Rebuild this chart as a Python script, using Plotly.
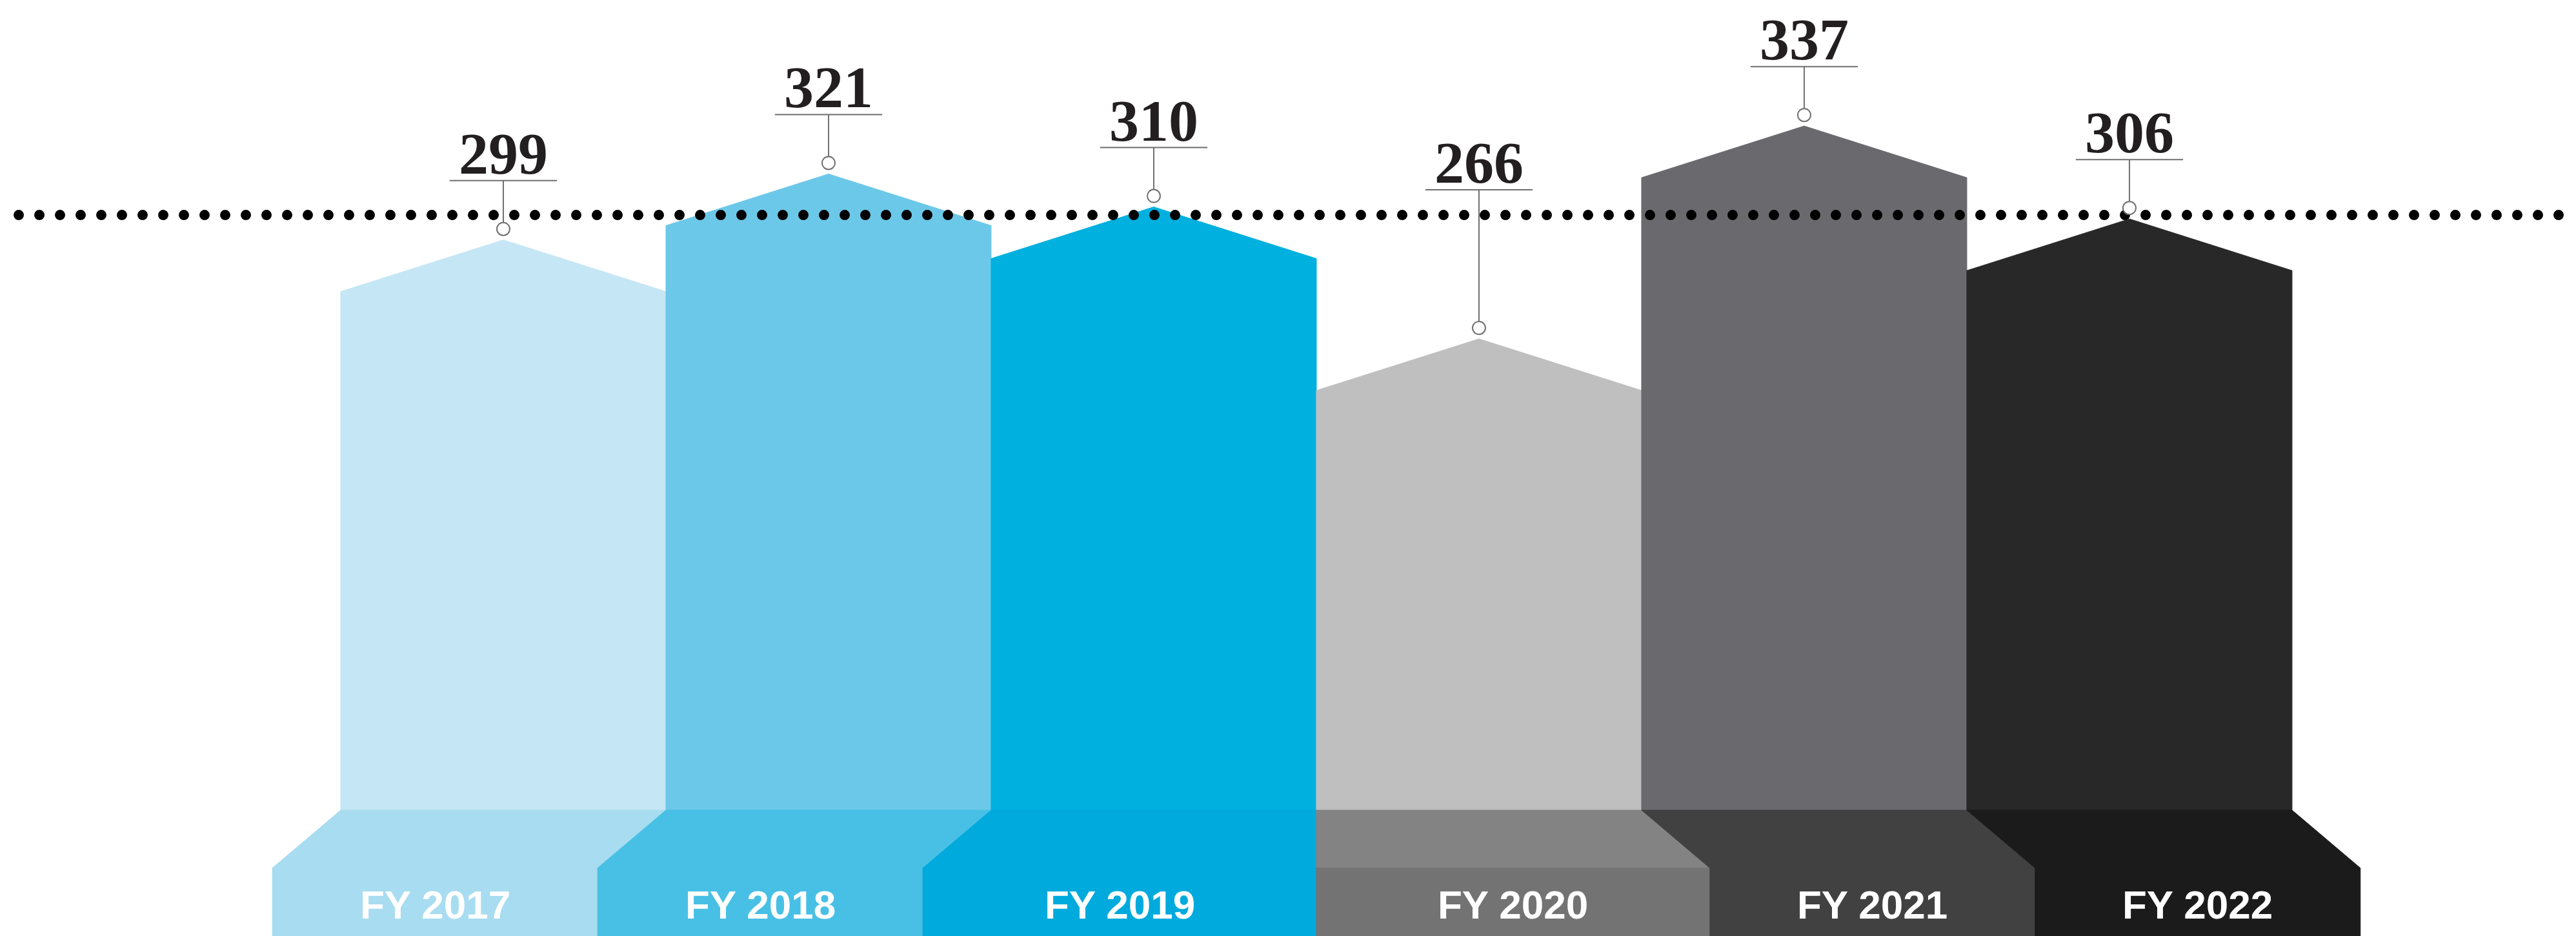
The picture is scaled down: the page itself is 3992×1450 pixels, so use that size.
import numpy as np
import plotly.graph_objects as go

# ---------------- data ----------------
categories = ["FY 2017", "FY 2018", "FY 2019", "FY 2020", "FY 2021", "FY 2022"]
values = [299, 321, 310, 266, 337, 306]
value_labels = ["299", "321", "310", "266", "337", "306"]
reference_value = 307.3  # dotted reference line

# ---------------- styles ----------------
house_colors = ["#C5E6F5", "#6CC8E8", "#00B0DF", "#BFBFBF", "#6A696E", "#282828"]
base_upper_colors = ["#A8DCF0", "#48C0E5", "#00AADD", "#838383", "#414141", "#1B1B1B"]
base_lower_colors = ["#A8DCF0", "#48C0E5", "#00AADD", "#737373", "#414141", "#1B1B1B"]
slant_dirs = [-1, -1, -1, 1, 1, 1]

W, H = 3992, 1450
Y_MIN, Y_MAX = 65.1, 377.3
X_MIN, X_MAX = -1.5317, 6.389
PX_PER_Y = H / (Y_MAX - Y_MIN)
ROOF = 80 / PX_PER_Y
BASE_TOP = 108.8
BASE_MID = 89.5
SLANT = 0.21
HALF = 0.5
CIRCLE_OFF = 17 / PX_PER_Y
STEM_OFF = 92 / PX_PER_Y
LABEL_MIN_ABOVE_REF = 39 / PX_PER_Y
LABEL_HALF_W = 0.165
GREY = "#6F6F6F"

fig = go.Figure()
n = len(values)

# houses
for i, v in enumerate(values):
    xs = [i - HALF, i - HALF, i, i + HALF, i + HALF, i - HALF]
    ys = [BASE_TOP, v - ROOF, v, v - ROOF, BASE_TOP, BASE_TOP]
    fig.add_trace(go.Scatter(x=xs, y=ys, mode="lines", fill="toself",
                             fillcolor=house_colors[i],
                             line=dict(color=house_colors[i], width=1),
                             hoverinfo="skip", showlegend=False))

# bases
label_x = []
for i in range(n):
    d = slant_dirs[i]
    bl = i - HALF + d * SLANT
    br = i + HALF + d * SLANT
    if d < 0 and i + 1 < n and slant_dirs[i + 1] > 0:
        br = i + HALF
    if d > 0 and i - 1 >= 0 and slant_dirs[i - 1] < 0:
        bl = i - HALF
    fig.add_trace(go.Scatter(
        x=[i - HALF, i + HALF, br, bl, i - HALF],
        y=[BASE_TOP, BASE_TOP, BASE_MID, BASE_MID, BASE_TOP],
        mode="lines", fill="toself", fillcolor=base_upper_colors[i],
        line=dict(color=base_upper_colors[i], width=1),
        hoverinfo="skip", showlegend=False))
    fig.add_trace(go.Scatter(
        x=[bl, br, br, bl, bl],
        y=[BASE_MID, BASE_MID, Y_MIN - 5, Y_MIN - 5, BASE_MID],
        mode="lines", fill="toself", fillcolor=base_lower_colors[i],
        line=dict(color=base_lower_colors[i], width=1),
        hoverinfo="skip", showlegend=False))
    label_x.append((bl + br) / 2)

# dotted reference line
dot_step = 32 / (W / (X_MAX - X_MIN))
dot_x = np.arange(-1.490, 6.32, dot_step)
fig.add_trace(go.Scatter(x=dot_x, y=[reference_value] * len(dot_x), mode="markers",
                         marker=dict(size=16, color="#000000", line=dict(width=0)),
                         hoverinfo="skip", showlegend=False))

# stems, label bars, circles
line_ys = [max(v + STEM_OFF, reference_value + LABEL_MIN_ABOVE_REF) for v in values]
sx, sy = [], []
for i, v in enumerate(values):
    sx += [i, i, None, i - LABEL_HALF_W, i + LABEL_HALF_W, None]
    sy += [v + CIRCLE_OFF + 10 / PX_PER_Y, line_ys[i], None, line_ys[i], line_ys[i], None]
fig.add_trace(go.Scatter(x=sx, y=sy, mode="lines", line=dict(color=GREY, width=2),
                         hoverinfo="skip", showlegend=False))
fig.add_trace(go.Scatter(x=list(range(n)), y=[v + CIRCLE_OFF for v in values], mode="markers",
                         marker=dict(size=20, color="white", line=dict(color=GREY, width=2)),
                         hoverinfo="skip", showlegend=False))

annotations = []
for i, lab in enumerate(value_labels):
    annotations.append(dict(x=i, y=line_ys[i], xref="x", yref="y", text=lab,
                            showarrow=False, yanchor="bottom", xanchor="center", yshift=-11,
                            font=dict(family="Liberation Serif", size=92, color="#231F20",
                                      weight=700)))
for i, c in enumerate(categories):
    annotations.append(dict(x=label_x[i], y=77.2, xref="x", yref="y", text=c,
                            showarrow=False, yanchor="middle", xanchor="center",
                            font=dict(family="Liberation Sans", size=62, color="#FFFFFF",
                                      weight=700)))

fig.update_layout(
    width=W, height=H, margin=dict(l=0, r=0, t=0, b=0),
    paper_bgcolor="white", plot_bgcolor="white",
    xaxis=dict(range=[X_MIN, X_MAX], visible=False, fixedrange=True),
    yaxis=dict(range=[Y_MIN, Y_MAX], visible=False, fixedrange=True),
    annotations=annotations, showlegend=False, hovermode=False,
)
fig.write_html("out.html")
